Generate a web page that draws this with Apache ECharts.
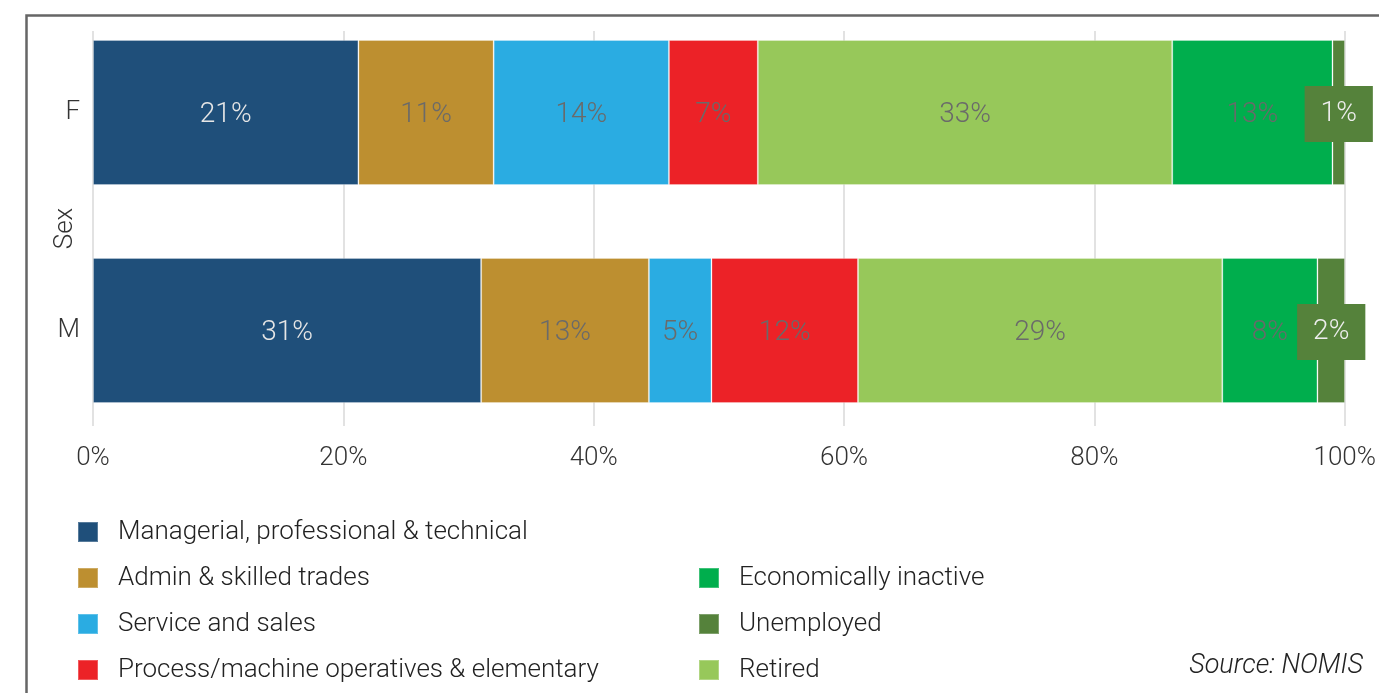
<!DOCTYPE html>
<html>
<head>
<meta charset="utf-8">
<script src="https://cdn.jsdelivr.net/npm/echarts@6/dist/echarts.min.js"></script>
<style>
  html, body { margin: 0; padding: 0; background: #ffffff; }
  #chart { width: 1379px; height: 693px; }
</style>
</head>
<body>
<div id="chart"></div>
<script>
// Share of residents by occupation / economic status, by sex (%)
const categories = ['F', 'M'];
const managerial = [21.2, 31.0];
const adminTrades = [10.8, 13.4];
const serviceSales = [14.0, 5.0];
const processElementary = [7.1, 11.7];
const retired = [33.1, 29.1];
const econInactive = [12.8, 7.6];
const unemployed = [1.0, 2.2];
const xTicks = [0, 20, 40, 60, 80, 100];

const FONT = 'Roboto, "Liberation Sans", sans-serif';

const seriesDefs = [
  { name: 'Managerial, professional & technical', data: managerial, color: '#1f4f7a', label: '#e6e6e6' },
  { name: 'Admin & skilled trades', data: adminTrades, color: '#bd8f30', label: '#6a6a6a' },
  { name: 'Service and sales', data: serviceSales, color: '#2aace2', label: '#6a6a6a' },
  { name: 'Process/machine operatives & elementary', data: processElementary, color: '#ec2227', label: '#6a6a6a' },
  { name: 'Retired', data: retired, color: '#97c85a', label: '#6a6a6a' },
  { name: 'Economically inactive', data: econInactive, color: '#00ae4d', label: '#6a6a6a' },
  { name: 'Unemployed', data: unemployed, color: '#55823b', label: '#eeeeee', boxed: true }
];

const series = seriesDefs.map(function (s) {
  const label = {
    show: true,
    position: ['50%', '52%'],
    align: 'center',
    verticalAlign: 'middle',
    formatter: function (p) { return Math.round(p.value) + '%'; },
    color: s.label,
    fontFamily: FONT,
    fontWeight: 300,
    fontSize: 28,
    lineHeight: 28
  };
  if (s.boxed) {
    label.backgroundColor = s.color;
    label.padding = [15, 16, 13, 16];
    label.position = ['50%', '51%'];
  }
  return {
    name: s.name,
    type: 'bar',
    stack: 'total',
    xAxisIndex: 1,
    yAxisIndex: 1,
    barWidth: 145,
    itemStyle: { color: s.color, borderColor: 'rgba(255,255,255,0.25)', borderWidth: 1 },
    label: label,
    labelLayout: { hideOverlap: false },
    emphasis: { disabled: true },
    data: s.data
  };
});

const legendText = {
  fontFamily: FONT, fontWeight: 300, fontSize: 26, lineHeight: 26,
  color: '#222222', padding: [0, 0, 0, 15]
};

const option = {
  backgroundColor: '#ffffff',
  animation: false,
  graphic: [
    {
      type: 'rect',
      left: 24, top: 13,
      shape: { width: 1400, height: 720 },
      style: { fill: 'none', stroke: '#666666', lineWidth: 2.5 },
      silent: true
    }
  ],
  title: {
    text: 'Source: NOMIS',
    right: 11,
    top: 648,
    textStyle: { fontFamily: FONT, fontWeight: 300, fontStyle: 'italic', fontSize: 27, color: '#222222' }
  },
  legend: [
    {
      orient: 'vertical',
      left: 77, top: 519, height: 200,
      padding: 0,
      itemWidth: 20, itemHeight: 20, itemGap: 20,
      icon: 'rect',
      selectedMode: false,
      data: [
        'Managerial, professional & technical',
        'Admin & skilled trades',
        'Service and sales',
        'Process/machine operatives & elementary'
      ],
      textStyle: legendText
    },
    {
      orient: 'vertical',
      left: 698, top: 565, height: 160,
      padding: 0,
      itemWidth: 20, itemHeight: 20, itemGap: 20,
      icon: 'rect',
      selectedMode: false,
      data: ['Economically inactive', 'Unemployed', 'Retired'],
      textStyle: legendText
    }
  ],
  grid: [
    // gridline frame with the percentage axis
    { left: 93, right: 34, top: 31, height: 395 },
    // bar area
    { left: 93, right: 34, top: 3.5, height: 436 }
  ],
  xAxis: [
    {
      gridIndex: 0,
      type: 'value',
      min: xTicks[0], max: xTicks[xTicks.length - 1], interval: 20,
      axisLine: { show: false },
      axisTick: { show: false },
      splitLine: { show: true, lineStyle: { color: '#e2e2e2', width: 2 } },
      axisLabel: {
        formatter: '{value}%', margin: 19,
        fontFamily: FONT, fontWeight: 300, fontSize: 26, color: '#333333'
      }
    },
    {
      gridIndex: 1,
      type: 'value',
      min: 0, max: 100,
      show: false
    }
  ],
  yAxis: [
    {
      gridIndex: 0,
      type: 'value',
      show: true,
      axisLine: { show: false },
      axisTick: { show: false },
      axisLabel: { show: false },
      splitLine: { show: false },
      name: 'Sex',
      nameLocation: 'middle',
      nameGap: 15,
      nameRotate: 90,
      nameTextStyle: { fontFamily: FONT, fontWeight: 300, fontSize: 26, color: '#333333' }
    },
    {
      gridIndex: 1,
      type: 'category',
      inverse: true,
      data: categories,
      axisLine: { show: false },
      axisTick: { show: false },
      axisLabel: { margin: 13, fontFamily: FONT, fontWeight: 300, fontSize: 26, color: '#333333' }
    }
  ],
  series: series
};

const chart = echarts.init(document.getElementById('chart'), null, { renderer: 'canvas' });
chart.setOption(option);
</script>
</body>
</html>
